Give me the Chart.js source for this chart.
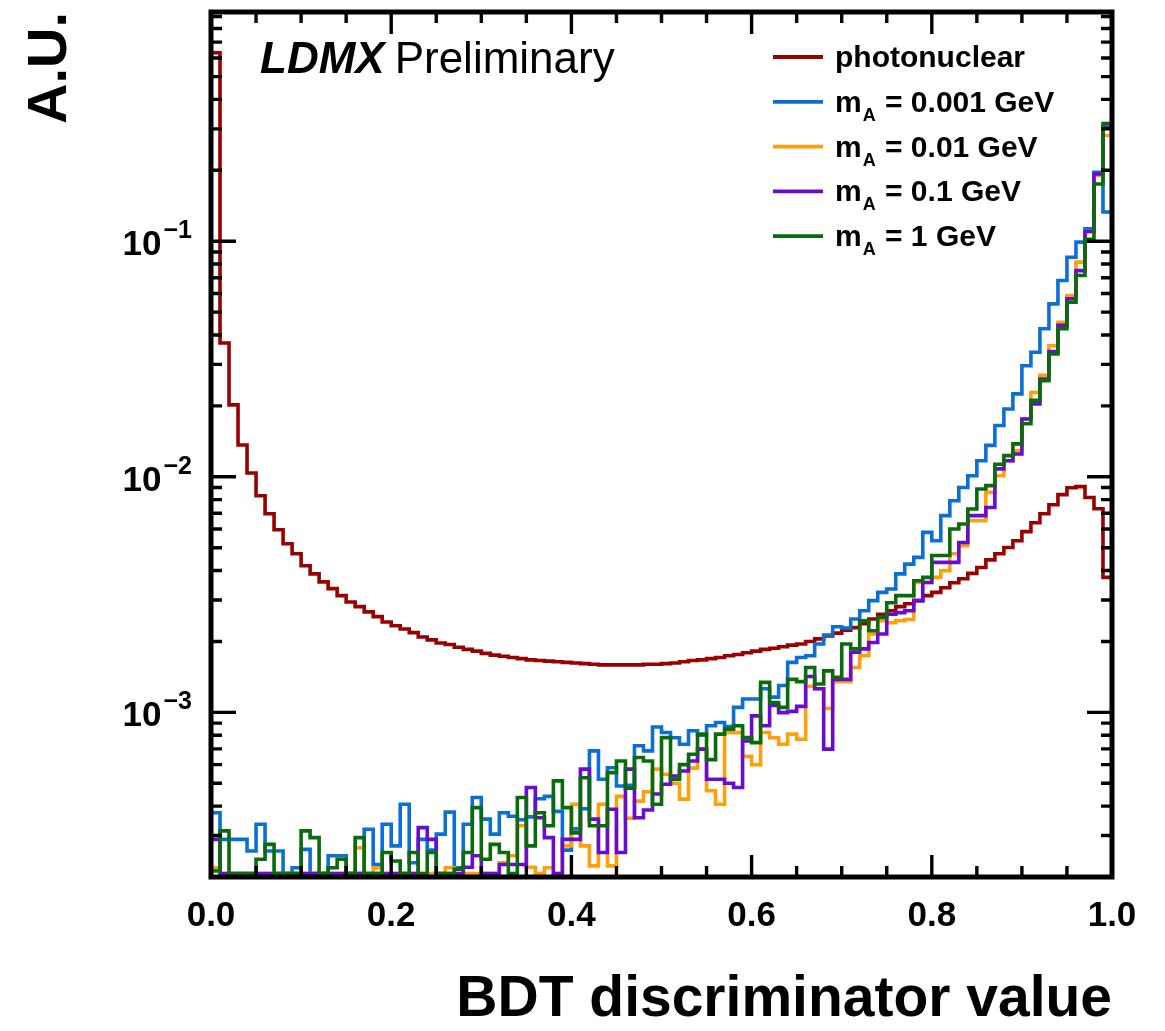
<!DOCTYPE html>
<html lang="en">
<head>
<meta charset="UTF-8">
<title>BDT discriminator value</title>
<script src="https://cdn.jsdelivr.net/npm/chart.js"></script>
<style>
  html, body { margin: 0; padding: 0; background: #fff; }
  #wrap { width: 1165px; height: 1031px; }
</style>
</head>
<body>
<div id="wrap"><canvas id="bdtChart" width="1165" height="1031"></canvas></div>
<script>
// 100 bins on [0, 1]
const binEdges = Array.from({ length: 101 }, (_, i) => i / 100);
const xTickValues = [0, 0.2, 0.4, 0.6, 0.8, 1.0];
const yTickValues = [1e-3, 1e-2, 1e-1];
const yTickLabels = ['10^−3', '10^−2', '10^−1'];

const seriesLabels = ['photonuclear', 'm_A = 0.001 GeV', 'm_A = 0.01 GeV', 'm_A = 0.1 GeV', 'm_A = 1 GeV'];
const seriesColors = ['#990000', '#0b6fd6', '#ffa00a', '#6a0bd4', '#0a6b0a'];

const photonuclear = [
  0.631, 0.0370, 0.0202, 0.01365, 0.01038, 0.00831, 0.00697, 0.00596, 0.00520, 0.00471,
  0.00419, 0.00387, 0.00358, 0.00335, 0.00313, 0.00294, 0.00281, 0.00267, 0.00255, 0.00242,
  0.00233, 0.00226, 0.00218, 0.00209, 0.00203, 0.00197, 0.00194, 0.00189, 0.00185, 0.00182,
  0.00178, 0.00175, 0.00173, 0.00171, 0.00169, 0.00167, 0.00166, 0.00165, 0.00164, 0.00163,
  0.00162, 0.00161, 0.00160, 0.00159, 0.00159, 0.00159, 0.00159, 0.00159, 0.00160, 0.00160,
  0.00161, 0.00162, 0.00164, 0.00166, 0.00167, 0.00169, 0.00171, 0.00174, 0.00176, 0.00179,
  0.00182, 0.00185, 0.00187, 0.00190, 0.00193, 0.00195, 0.00200, 0.00205, 0.00211, 0.00217,
  0.00223, 0.00229, 0.00238, 0.00249, 0.00261, 0.00270, 0.00281, 0.00289, 0.00298, 0.00313,
  0.00323, 0.00338, 0.00355, 0.00369, 0.00389, 0.00412, 0.00444, 0.00471, 0.00501, 0.00535,
  0.00585, 0.00638, 0.00697, 0.00761, 0.00840, 0.00899, 0.00908, 0.00817, 0.00732, 0.00374
];

const mA0001 = [
  3.75e-4, 2.89e-4, 2.89e-4, 2.89e-4, 2.58e-4, 3.35e-4, 2.58e-4, 2.58e-4, 2.07e-4, 2.19e-4,
  2.62e-4, 2.07e-4, 2.07e-4, 2.46e-4, 2.46e-4, 2.07e-4, 2.07e-4, 3.19e-4, 2.26e-4, 3.35e-4,
  2.71e-4, 4.07e-4, 2.30e-4, 2.89e-4, 2.60e-4, 3.04e-4, 3.77e-4, 2.19e-4, 3.35e-4, 4.35e-4,
  3.52e-4, 3.04e-4, 3.75e-4, 3.62e-4, 3.50e-4, 3.60e-4, 4.30e-4, 4.40e-4, 3.80e-4, 2.60e-4,
  3.20e-4, 3.90e-4, 6.86e-4, 5.20e-4, 5.82e-4, 4.87e-4, 4.90e-4, 7.21e-4, 6.86e-4, 8.66e-4,
  8.21e-4, 7.80e-4, 7.32e-4, 8.35e-4, 8.00e-4, 8.77e-4, 9.05e-4, 8.70e-4, 1.05e-3, 1.14e-3,
  1.14e-3, 1.26e-3, 1.16e-3, 1.30e-3, 1.63e-3, 1.71e-3, 1.74e-3, 1.95e-3, 2.13e-3, 2.31e-3,
  2.28e-3, 2.49e-3, 2.70e-3, 2.98e-3, 3.23e-3, 3.34e-3, 3.87e-3, 4.26e-3, 4.55e-3, 5.81e-3,
  5.35e-3, 6.84e-3, 7.91e-3, 9.01e-3, 1.01e-2, 1.17e-2, 1.36e-2, 1.65e-2, 1.94e-2, 2.25e-2,
  2.96e-2, 3.38e-2, 4.25e-2, 5.42e-2, 6.81e-2, 8.55e-2, 9.91e-2, 0.113, 0.196, 0.133
];

const mA001 = [
  2.19e-4, 2.07e-4, 2.07e-4, 2.07e-4, 2.07e-4, 2.07e-4, 2.07e-4, 2.07e-4, 2.07e-4, 2.07e-4,
  2.07e-4, 2.07e-4, 2.07e-4, 2.07e-4, 2.07e-4, 2.07e-4, 2.66e-4, 2.07e-4, 2.19e-4, 2.07e-4,
  2.07e-4, 2.07e-4, 2.07e-4, 2.07e-4, 2.07e-4, 2.07e-4, 2.19e-4, 2.07e-4, 2.07e-4, 2.07e-4,
  2.07e-4, 2.07e-4, 2.30e-4, 2.46e-4, 3.30e-4, 2.20e-4, 2.07e-4, 2.19e-4, 2.07e-4, 2.71e-4,
  4.07e-4, 2.71e-4, 2.23e-4, 4.07e-4, 2.23e-4, 4.40e-4, 3.55e-4, 4.20e-4, 4.60e-4, 5.74e-4,
  5.46e-4, 5.00e-4, 4.28e-4, 5.80e-4, 7.00e-4, 4.65e-4, 4.07e-4, 8.21e-4, 8.20e-4, 6.50e-4,
  6.00e-4, 8.21e-4, 7.80e-4, 7.32e-4, 8.08e-4, 7.69e-4, 1.29e-3, 1.26e-3, 1.04e-3, 1.35e-3,
  1.35e-3, 1.55e-3, 1.74e-3, 2.15e-3, 2.45e-3, 2.40e-3, 2.45e-3, 2.48e-3, 3.56e-3, 3.56e-3,
  3.74e-3, 3.99e-3, 4.71e-3, 5.10e-3, 6.51e-3, 6.51e-3, 8.59e-3, 1.01e-2, 1.17e-2, 1.29e-2,
  1.76e-2, 2.28e-2, 2.70e-2, 3.60e-2, 4.53e-2, 5.88e-2, 8.15e-2, 0.110, 0.190, 0.281
];

const mA01 = [
  2.89e-4, 2.07e-4, 2.07e-4, 2.07e-4, 2.07e-4, 2.07e-4, 2.07e-4, 2.07e-4, 2.07e-4, 2.07e-4,
  2.07e-4, 2.07e-4, 2.07e-4, 2.07e-4, 2.07e-4, 2.07e-4, 2.07e-4, 2.07e-4, 2.07e-4, 2.07e-4,
  2.07e-4, 2.07e-4, 2.07e-4, 3.24e-4, 2.89e-4, 2.07e-4, 2.07e-4, 2.07e-4, 2.20e-4, 2.46e-4,
  2.07e-4, 2.07e-4, 2.26e-4, 2.26e-4, 2.26e-4, 4.80e-4, 3.57e-4, 2.94e-4, 2.07e-4, 2.89e-4,
  2.89e-4, 5.74e-4, 3.52e-4, 2.54e-4, 3.88e-4, 2.54e-4, 5.74e-4, 3.57e-4, 3.85e-4, 4.50e-4,
  4.95e-4, 5.37e-4, 5.64e-4, 6.22e-4, 6.98e-4, 5.20e-4, 5.20e-4, 5.00e-4, 4.80e-4, 7.56e-4,
  9.66e-4, 8.77e-4, 1.07e-3, 9.97e-4, 1.01e-3, 1.06e-3, 1.42e-3, 1.26e-3, 6.98e-4, 1.38e-3,
  1.38e-3, 1.80e-3, 1.86e-3, 1.98e-3, 2.15e-3, 2.61e-3, 2.65e-3, 2.70e-3, 2.98e-3, 3.56e-3,
  4.33e-3, 4.33e-3, 4.33e-3, 5.26e-3, 6.84e-3, 6.84e-3, 7.41e-3, 1.08e-2, 1.17e-2, 1.25e-2,
  1.76e-2, 2.04e-2, 2.60e-2, 3.40e-2, 4.40e-2, 5.70e-2, 7.50e-2, 0.110, 0.193, 0.305
];

const mA1 = [
  2.12e-4, 3.14e-4, 2.07e-4, 2.07e-4, 2.07e-4, 2.38e-4, 2.75e-4, 2.07e-4, 2.07e-4, 2.07e-4,
  3.14e-4, 2.94e-4, 2.07e-4, 2.19e-4, 2.38e-4, 2.07e-4, 2.94e-4, 2.07e-4, 2.07e-4, 2.54e-4,
  2.34e-4, 2.07e-4, 2.54e-4, 2.07e-4, 2.54e-4, 2.07e-4, 2.07e-4, 2.16e-4, 2.54e-4, 3.94e-4,
  2.38e-4, 2.75e-4, 2.54e-4, 2.07e-4, 4.35e-4, 2.71e-4, 3.75e-4, 3.30e-4, 5.12e-4, 3.94e-4,
  3.08e-4, 5.28e-4, 3.30e-4, 3.30e-4, 5.55e-4, 6.22e-4, 4.76e-4, 6.43e-4, 6.22e-4, 4.07e-4,
  7.81e-4, 5.20e-4, 6.00e-4, 6.64e-4, 8.08e-4, 6.30e-4, 8.08e-4, 8.49e-4, 8.77e-4, 7.81e-4,
  7.44e-4, 1.34e-3, 1.10e-3, 1.05e-3, 1.38e-3, 1.35e-3, 1.55e-3, 1.32e-3, 1.50e-3, 1.41e-3,
  1.95e-3, 1.86e-3, 2.45e-3, 2.22e-3, 2.53e-3, 2.92e-3, 3.13e-3, 3.13e-3, 3.62e-3, 3.74e-3,
  4.63e-3, 4.63e-3, 6.00e-3, 6.30e-3, 7.30e-3, 8.87e-3, 9.17e-3, 1.13e-2, 1.23e-2, 1.38e-2,
  1.68e-2, 2.11e-2, 2.56e-2, 3.32e-2, 4.25e-2, 5.51e-2, 7.15e-2, 0.102, 0.175, 0.316
];

const seriesValues = [photonuclear, mA0001, mA001, mA01, mA1];
// draw order: green on top, photonuclear at the back
const seriesOrder = [4, 3, 2, 1, 0];

const FONT = '"Liberation Sans", Arial, Helvetica, sans-serif';

// histogram outline: each value holds from its low edge to the next one
function histPoints(values) {
  const pts = values.map((v, i) => ({ x: binEdges[i], y: v }));
  pts.push({ x: binEdges[values.length], y: values[values.length - 1] });
  return pts;
}

// ROOT style frame, inward ticks on all four sides, text and legend
const rootStyle = {
  id: 'rootStyle',
  afterDatasetsDraw(chart) {
    const { ctx, chartArea: a, scales: { x, y } } = chart;
    ctx.save();
    ctx.strokeStyle = '#000';
    ctx.lineWidth = 3.4;
    ctx.beginPath();
    for (let k = 0; k <= 20; k++) {
      const px = x.getPixelForValue(k * 0.05);
      const len = k % 4 === 0 ? 22 : 11;
      ctx.moveTo(px, a.bottom); ctx.lineTo(px, a.bottom - len);
      ctx.moveTo(px, a.top); ctx.lineTo(px, a.top + len);
    }
    for (let e = -4; e <= 0; e++) {
      for (let m = 1; m <= 9; m++) {
        const v = m * Math.pow(10, e);
        if (v < y.min || v > y.max) continue;
        const py = y.getPixelForValue(v);
        const len = m === 1 ? 25 : 11;
        ctx.moveTo(a.left, py); ctx.lineTo(a.left + len, py);
        ctx.moveTo(a.right, py); ctx.lineTo(a.right - len, py);
      }
    }
    ctx.stroke();
    ctx.lineWidth = 5;
    ctx.strokeRect(a.left, a.top, a.right - a.left, a.bottom - a.top);
    ctx.restore();
  },
  afterDraw(chart) {
    const { ctx, chartArea: a, scales: { y } } = chart;
    ctx.save();
    ctx.fillStyle = '#000';
    ctx.textBaseline = 'alphabetic';

    // y tick labels with superscript exponent
    ctx.textAlign = 'right';
    yTickValues.forEach((v, i) => {
      const py = y.getPixelForValue(v);
      const [base, exp] = yTickLabels[i].split('^');
      ctx.font = 'bold 25px ' + FONT;
      ctx.fillText(exp, a.left - 19, py - 3);
      const ew = ctx.measureText(exp).width;
      ctx.font = 'bold 35px ' + FONT;
      ctx.fillText(base, a.left - 19 - ew - 2, py + 14);
    });

    ctx.textAlign = 'left';
    // LDMX Preliminary
    ctx.font = 'italic bold 44px ' + FONT;
    ctx.fillText('LDMX', a.left + 49, a.top + 61);
    const w = ctx.measureText('LDMX').width;
    ctx.font = '44px ' + FONT;
    ctx.fillText('Preliminary', a.left + 49 + w + 10, a.top + 61);

    // legend
    const lx0 = a.right - 339, lx1 = a.right - 289, tx = a.right - 277;
    seriesLabels.forEach((label, i) => {
      const ry = a.top + 45 + i * 44.8;
      ctx.strokeStyle = seriesColors[i];
      ctx.lineWidth = 3.8;
      ctx.beginPath();
      ctx.moveTo(lx0, ry); ctx.lineTo(lx1, ry);
      ctx.stroke();
      const parts = label.split('_');
      ctx.font = 'bold 30px ' + FONT;
      if (parts.length === 1) {
        ctx.fillText(label, tx, ry + 10);
      } else {
        const base = parts[0];
        const sub = parts[1].charAt(0);
        const rest = parts[1].slice(1);
        ctx.fillText(base, tx, ry + 10);
        let cx = tx + ctx.measureText(base).width;
        ctx.font = 'bold 18px ' + FONT;
        ctx.fillText(sub, cx + 1, ry + 19);
        cx += ctx.measureText(sub).width + 2;
        ctx.font = 'bold 30px ' + FONT;
        ctx.fillText(rest, cx, ry + 10);
      }
    });
    ctx.restore();
  }
};

Chart.defaults.font.family = FONT;
Chart.defaults.color = '#000';

new Chart(document.getElementById('bdtChart'), {
  type: 'line',
  data: {
    datasets: seriesValues.map((vals, i) => ({
      label: seriesLabels[i],
      data: histPoints(vals),
      borderColor: seriesColors[i],
      backgroundColor: seriesColors[i],
      borderWidth: 3.6,
      stepped: 'before',
      pointRadius: 0,
      fill: false,
      order: seriesOrder[i]
    }))
  },
  options: {
    responsive: false,
    animation: false,
    layout: { padding: { left: 0, right: 53, top: 12, bottom: 0 } },
    plugins: {
      legend: { display: false },
      tooltip: { enabled: false }
    },
    scales: {
      x: {
        type: 'linear',
        min: 0,
        max: 1,
        afterBuildTicks: (s) => { s.ticks = xTickValues.map(v => ({ value: v })); },
        afterFit: (s) => { s.height = 154; s.paddingLeft = 0; s.paddingRight = 0; },
        grid: { display: false, drawTicks: false },
        border: { display: false },
        ticks: {
          autoSkip: false,
          maxRotation: 0,
          padding: 18,
          font: { size: 35, weight: 'bold' },
          callback: (v) => Number(v).toFixed(1)
        },
        title: {
          display: true,
          text: 'BDT discriminator value',
          align: 'end',
          font: { size: 57, weight: 'bold', lineHeight: 1.0 },
          padding: { top: 0, bottom: 2 }
        }
      },
      y: {
        type: 'logarithmic',
        min: 2e-4,
        max: 0.94,
        afterBuildTicks: (s) => { s.ticks = yTickValues.map(v => ({ value: v, major: true })); },
        afterFit: (s) => { s.width = 211; s.paddingTop = 0; s.paddingBottom = 0; },
        grid: { display: false, drawTicks: false },
        border: { display: false },
        ticks: { display: false },
        title: {
          display: true,
          text: 'A.U.',
          align: 'end',
          font: { size: 56, weight: 'bold', lineHeight: 1.0 },
          padding: { top: 23, bottom: 0 }
        }
      }
    }
  },
  plugins: [rootStyle]
});
</script>
</body>
</html>
